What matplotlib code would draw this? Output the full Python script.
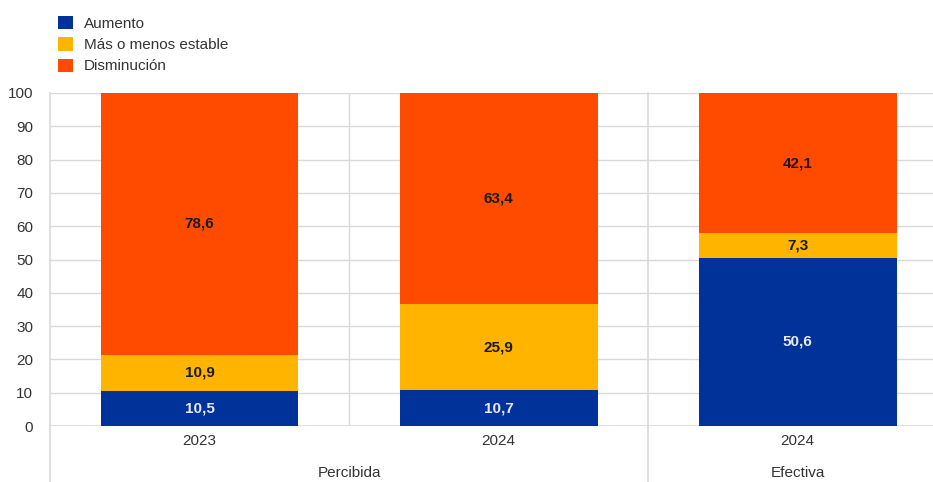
import numpy as np
import matplotlib.pyplot as plt
import matplotlib.transforms as mtransforms

plt.rcParams['font.family'] = ['Liberation Sans', 'DejaVu Sans']

# data
years = ["2023", "2024", "2024"]
groups = ["Percibida", "Efectiva"]
aumento = [10.5, 10.7, 50.6]
estable = [10.9, 25.9, 7.3]
disminucion = [78.6, 63.4, 42.1]
series_names = ["Aumento", "Más o menos estable", "Disminución"]
colors = ["#003299", "#FFB400", "#FF4B00"]

fig = plt.figure(figsize=(9.33, 4.82), dpi=100)
ax = fig.add_axes([50/933, 56/482, 883/933, 333/482])

x = np.arange(len(years))
w = 0.662
grid_c = "#d9d9d9"
fs = 11

# gridlines
for yv in range(10, 101, 10):
    ax.axhline(yv, color=grid_c, lw=1, zorder=0)

bottom = np.zeros(len(years))
for vals, col, name in zip([aumento, estable, disminucion], colors, series_names):
    vals = np.array(vals)
    ax.bar(x, vals, w, bottom=bottom, color=col, label=name, zorder=2)
    for xi, b, v in zip(x, bottom, vals):
        tc = "#e8e8f4" if col == colors[0] else "#1a1a1a"
        ax.text(xi, b + v / 2, f"{v:.1f}".replace(".", ","), ha="center", va="center",
                fontsize=fs, fontweight="bold", color=tc, zorder=3)
    bottom += vals

ax.set_xlim(-0.5, 2.453)
ax.set_ylim(0, 100)
ax.set_yticks(range(0, 101, 10))
ax.tick_params(axis="y", length=0, labelsize=fs, colors="#333333", pad=12)
ax.set_xticks([])
for s in ax.spines.values():
    s.set_visible(False)
ax.axhline(0, color=grid_c, lw=1.2, zorder=1)

# vertical separators
trans = mtransforms.blended_transform_factory(ax.transData, ax.transAxes)
ax.plot([0.5, 0.5], [0, 1], color=grid_c, lw=1, transform=trans, zorder=0)
for xs in [-0.5, 1.5]:
    ax.plot([xs, xs], [-0.17, 1], color=grid_c, lw=1.2, transform=trans,
            clip_on=False, zorder=0)

# category labels
for xi, yr in zip(x, years):
    ax.text(xi, -0.045, yr, transform=trans, ha="center", va="center",
            fontsize=fs, color="#333333")
ax.text(0.5, -0.142, groups[0], transform=trans, ha="center", va="center",
        fontsize=fs, color="#333333")
ax.text(2, -0.142, groups[1], transform=trans, ha="center", va="center",
        fontsize=fs, color="#333333")

# legend
h, l = ax.get_legend_handles_labels()
fig.legend(h, l, loc="upper left", bbox_to_anchor=(52/933, 1 - 10/482), frameon=False,
           fontsize=fs, handlelength=0.95, handleheight=0.95, handletextpad=0.75,
           labelspacing=0.42, borderaxespad=0, labelcolor="#333333")

fig.savefig("out.png", dpi=100)
